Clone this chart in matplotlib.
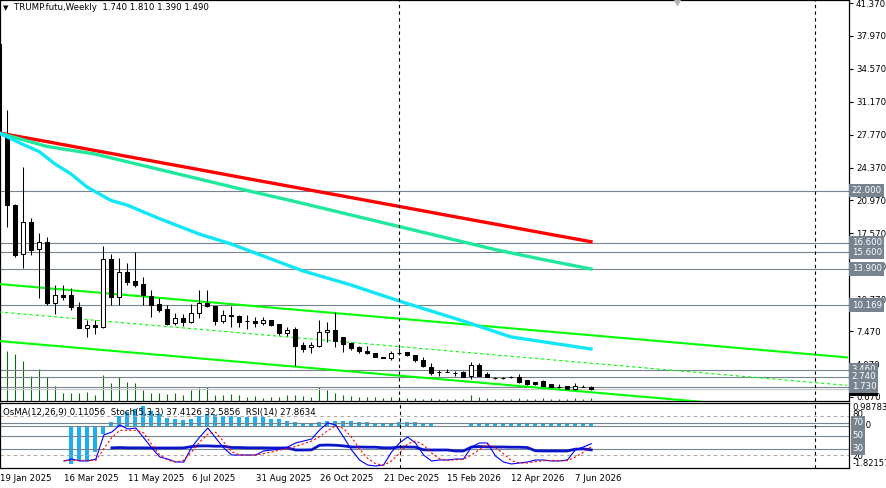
import matplotlib
matplotlib.use("Agg")
import matplotlib.pyplot as plt
import matplotlib.transforms as mtransforms
import numpy as np

# figure size in pixels, plot area ends at PLOT_RIGHT
W, H = 887, 488
PLOT_RIGHT = 849

# weekly bars, index 0 = 19 Jan 2025
opens = [37.13, 27.94, 20.50, 15.44, 18.75, 15.96, 16.68, 10.38, 11.20, 11.20,
         9.97, 7.80, 8.11, 7.90, 14.92, 10.99, 13.58, 12.65, 12.34, 11.10,
         10.27, 9.76, 8.31, 8.83, 8.42, 9.35, 10.38, 10.07, 8.52, 9.14,
         9.04, 8.52, 8.52, 8.31, 8.63, 8.21, 7.28, 7.69, 6.04, 5.84,
         5.95, 7.38, 7.59, 6.88, 6.25, 5.84, 5.42, 5.21, 4.80, 4.70,
         5.21, 5.32, 5.01, 4.49, 3.77, 3.25, 3.25, 3.15, 3.25, 2.83,
         3.97, 3.04, 2.63, 2.63, 2.73, 2.73, 2.42, 2.22, 2.32, 2.01,
         1.70, 1.81, 1.50, 1.70, 1.74]
highs = [45.00, 30.32, 20.60, 24.43, 19.16, 17.61, 17.20, 12.24, 12.24, 11.93,
         10.48, 8.62, 8.62, 16.27, 15.44, 15.03, 14.51, 15.65, 13.06, 11.72,
         10.89, 10.17, 9.35, 9.24, 10.27, 11.72, 11.72, 10.10, 9.66, 10.07,
         9.10, 9.14, 8.93, 8.93, 8.65, 8.25, 7.90, 7.90, 6.36, 6.36,
         8.60, 8.40, 9.40, 6.90, 6.30, 5.90, 5.95, 5.25, 4.85, 5.42,
         5.73, 5.32, 5.05, 4.80, 4.18, 3.46, 3.56, 3.35, 3.35, 4.28,
         4.18, 3.25, 2.73, 2.70, 2.80, 3.04, 2.45, 2.25, 2.42, 2.05,
         2.01, 1.85, 2.11, 1.91, 1.81]
lows = [27.50, 18.23, 15.13, 14.00, 15.34, 10.89, 10.17, 9.24, 10.70, 9.66,
        7.75, 6.88, 7.18, 7.80, 10.17, 10.17, 12.24, 12.03, 10.17, 8.93,
        9.45, 8.11, 8.11, 8.01, 8.31, 8.83, 10.00, 8.11, 8.31, 7.90,
        7.90, 7.69, 7.90, 8.11, 8.05, 7.08, 6.98, 3.90, 5.32, 5.21,
        5.84, 6.36, 5.80, 5.32, 5.50, 5.21, 5.15, 4.75, 4.65, 4.49,
        5.01, 4.90, 4.28, 3.77, 2.94, 2.83, 3.20, 2.83, 2.70, 2.53,
        2.80, 2.70, 2.53, 2.55, 2.60, 2.11, 1.95, 1.95, 1.78, 1.65,
        1.60, 1.45, 1.40, 1.65, 1.39]
closes = [27.94, 20.50, 15.34, 18.75, 15.85, 16.68, 10.38, 11.20, 10.99, 9.97,
          7.80, 8.11, 7.90, 14.92, 10.99, 13.58, 12.55, 12.24, 11.20, 10.17,
          9.66, 8.21, 8.83, 8.42, 9.35, 10.38, 10.07, 8.52, 9.14, 9.04,
          8.42, 8.52, 8.31, 8.63, 8.11, 7.28, 7.59, 5.95, 5.63, 6.04,
          7.38, 7.59, 6.50, 6.15, 5.73, 5.42, 5.21, 4.80, 4.70, 5.21,
          5.21, 5.01, 4.49, 3.87, 3.15, 3.25, 3.25, 3.15, 2.73, 3.97,
          2.83, 2.73, 2.63, 2.63, 2.73, 2.22, 2.01, 2.01, 1.81, 1.70,
          1.70, 1.50, 1.81, 1.70, 1.49]
volumes = [60, 50, 47, 40, 25, 32, 24, 15, 8, 8,
           8, 9, 6, 26, 18, 24, 19, 18, 11, 8,
           8, 7, 8, 6, 11, 13, 14, 6, 6, 7,
           6, 4, 5, 3, 4, 4, 6, 6, 5, 4,
           14, 11, 8, 6, 5, 4, 4, 4, 3, 4,
           4, 3, 3, 2, 3, 2, 2, 2, 2, 6,
           4, 3, 2, 2, 2, 3, 2, 2, 3, 2,
           2, 2, 3, 2, 3]

# moving averages, sampled at bar indices
ma_slow_idx = [0, 6, 12, 19, 25, 31, 37, 44, 50, 56, 62, 68, 74]
ma_red = [27.94, 27.05, 26.13, 25.07, 24.16, 23.24, 22.33, 21.27, 20.36, 19.44,
          18.53, 17.61, 16.71]
ma_spring = [27.94, 26.55, 25.77, 24.38, 23.19, 22.00, 20.86, 19.47, 18.28,
             17.09, 15.90, 14.87, 13.89]
ma_cyan_idx = [0, 3, 5, 7, 9, 11, 14, 16, 20, 25, 29, 34, 38, 44, 50, 58, 64, 74]
ma_cyan = [27.94, 26.76, 26.03, 24.74, 23.71, 22.36, 20.97, 20.50, 19.11, 17.51,
           16.48, 14.93, 13.69, 12.24, 10.59, 8.52, 6.87, 5.63]

# trend channel
chan_idx = [0, 106]
chan_upper = [12.34, 4.76]
chan_mid = [9.45, 1.87]
chan_lower = [6.45, -1.13]

levels = [22.0, 16.6, 15.6, 13.9, 10.169, 3.46, 2.74, 1.73]
tick_vals = [41.37, 37.97, 34.57, 31.17, 27.77, 24.37, 20.97, 17.57, 14.17,
             10.77, 7.47, 4.07, 0.67]
separators = [50, 102]
shift_mark = 84.75

date_idx = [0, 8, 16, 24, 32, 40, 48, 56, 64, 72]
date_labels = ['19 Jan 2025', '16 Mar 2025', '11 May 2025', '6 Jul 2025',
               '31 Aug 2025', '26 Oct 2025', '21 Dec 2025', '15 Feb 2026',
               '12 Apr 2026', '7 Jun 2026']

nan = np.nan
osma = [nan] * 9 + [
    -1.66, -1.53, -1.53, -1.15, -0.37, 0.15, 0.41, 0.58, 0.71, 0.84,
    0.63, 0.50, 0.32, 0.28, 0.24, 0.28, 0.41, 0.50, 0.45, 0.41,
    0.41, 0.37, 0.37, 0.37, 0.37, 0.28, 0.28, 0.19, 0.15, 0.06,
    0.06, 0.15, 0.19, 0.19, 0.19, 0.19, 0.15, 0.15, 0.11, 0.06,
    0.06, 0.15, 0.15, 0.15, 0.11, 0.06, 0.0, 0.0, 0.0, 0.0,
    0.08, 0.13, 0.13, 0.12, 0.12, 0.12, 0.11, 0.12, 0.12, 0.11,
    0.12, 0.11, 0.10, 0.11, 0.11, 0.11056]
stoch_k = [nan] * 8 + [
    10.8, 13.8, 10.8, 10.8, 13.8, 50.8, 55.4, 66.2, 60.0, 61.5,
    46.2, 30.8, 16.9, 13.8, 9.2, 9.2, 32.3, 47.7, 61.5, 46.2,
    30.8, 20.0, 20.0, 20.0, 20.0, 26.2, 27.7, 29.2, 32.3, 38.5,
    41.5, 44.6, 58.5, 69.2, 66.2, 47.7, 27.7, 12.3, 4.6, 3.1,
    4.6, 24.6, 38.5, 47.7, 38.5, 20.0, 10.8, 12.3, 12.3, 13.8,
    13.8, 32.3, 38.5, 38.5, 18.5, 9.2, 6.2, 7.7, 9.2, 12.3,
    12.3, 10.8, 10.8, 12.3, 27.7, 32.3, 37.4126]
stoch_d = [nan] * 8 + [
    11.0, 12.0, 11.8, 11.8, 11.8, 30.0, 47.0, 58.0, 58.0, 58.0,
    54.0, 36.0, 20.0, 12.0, 9.0, 12.0, 25.0, 40.0, 52.0, 55.0,
    40.0, 25.0, 20.0, 20.0, 20.0, 22.1, 24.6, 27.7, 29.7, 33.3,
    37.4, 41.5, 48.2, 57.4, 64.6, 61.0, 47.2, 29.2, 14.9, 6.7,
    4.1, 10.8, 22.6, 36.9, 41.6, 35.4, 23.1, 14.4, 11.8, 12.8,
    13.3, 20.0, 28.2, 36.4, 31.8, 22.1, 11.3, 7.7, 7.7, 9.7,
    11.3, 11.8, 11.3, 11.3, 16.9, 24.1, 32.5856]
rsi = [nan] * 14 + [
    31.0, 31.5, 31.0, 31.0, 31.0, 30.8, 30.8, 30.8, 30.8, 31.0,
    33.0, 34.0, 34.0, 33.5, 33.5, 31.5, 31.5, 31.0, 31.0, 31.0,
    30.8, 30.8, 30.8, 27.7, 27.7, 28.0, 35.0, 35.4, 35.0, 34.0,
    32.3, 32.3, 32.0, 32.0, 31.0, 31.0, 32.3, 32.3, 32.0, 28.0,
    27.7, 27.7, 27.7, 26.2, 26.2, 32.3, 33.0, 32.5, 32.3, 32.3,
    32.0, 32.0, 31.5, 26.5, 26.2, 26.2, 26.2, 26.2, 29.0, 29.5,
    27.8634]

GREY = '#77838F'
XLIM = (0.125, 106.25)


def rect(top, bottom):
    return [0, 1 - bottom / H, PLOT_RIGHT / W, (bottom - top) / H]


def main() -> None:
    plt.rcParams['font.family'] = ['DejaVu Sans']
    plt.rcParams['font.size'] = 6.2
    fig = plt.figure(figsize=(W / 100, H / 100), dpi=100)
    fig.patch.set_facecolor('white')

    # --- main price panel ---
    ax_vol = fig.add_axes(rect(0, 401))
    ax = fig.add_axes(rect(0, 401))
    ax_vol.set_zorder(0)
    ax.set_zorder(1)
    ax.patch.set_visible(False)

    ax_vol.vlines(np.arange(len(volumes)), 0, volumes, color='#0A6E0A', lw=0.8)
    ax_vol.set_xlim(*XLIM)
    ax_vol.set_ylim(0, 401)
    ax_vol.axis('off')

    o = np.array(opens)
    c = np.array(closes)
    idx = np.arange(len(c))

    for lv in levels:
        ax.axhline(lv, color=GREY, lw=0.8, zorder=2)
    ax.axhline(c[-1], color='#C8C8C8', lw=0.8, zorder=2)

    ax.plot(chan_idx, chan_upper, color='#00FF00', lw=1.5, zorder=3)
    ax.plot(chan_idx, chan_lower, color='#00FF00', lw=1.5, zorder=3)
    ax.plot(chan_idx, chan_mid, color='#00FF00', lw=0.8, ls=(0, (3, 2.5)), zorder=3)

    ax.vlines(idx, lows, highs, color='black', lw=0.75, zorder=4)
    up = c > o
    ax.bar(idx, np.abs(c - o), bottom=np.minimum(o, c), width=0.62,
           color=np.where(up, 'white', 'black'), edgecolor='black',
           linewidth=0.75, zorder=5)

    ax.plot(ma_slow_idx, ma_red, color='#FF0000', lw=2.4, zorder=6)
    ax.plot(ma_slow_idx, ma_spring, color='#1FE89C', lw=2.4, zorder=6)
    ax.plot(ma_cyan_idx, ma_cyan, color='#10E6F6', lw=2.4, zorder=6)

    for s in separators:
        ax.axvline(s, color='black', lw=0.8, ls=(0, (3, 3)), zorder=7)

    top_tr = mtransforms.blended_transform_factory(ax.transData, ax.transAxes)
    ax.plot([shift_mark], [1.0], marker='v', ms=7, color='#B4B4B4',
            transform=top_tr, clip_on=False, zorder=8)

    ax.set_xlim(*XLIM)
    ax.set_xticks([])
    ax.yaxis.tick_right()
    ax.set_yticks(tick_vals)
    ax.set_yticklabels([f'{v:.3f}' for v in tick_vals])
    ax.tick_params(axis='y', length=3, width=0.8, pad=2, labelsize=6.2)
    ax.set_ylim(0.254, 41.68)
    for sp in ax.spines.values():
        sp.set_linewidth(0.9)

    lab_tr = mtransforms.blended_transform_factory(ax.transAxes, ax.transData)
    ax.text(1.003, c[-1], f'{c[-1]:.3f}', transform=lab_tr, ha='left', va='center',
            color='white', bbox=dict(boxstyle='square,pad=0.25', fc='black', ec='none'),
            zorder=9, clip_on=False)
    for lv in levels:
        ax.text(1.003, lv, f'{lv:.3f}', transform=lab_tr, ha='left', va='center',
                color='white', bbox=dict(boxstyle='square,pad=0.25', fc=GREY, ec='none'),
                zorder=10, clip_on=False)

    fig.text(3 / W, 1 - 8 / H, '\u25bc', fontsize=5, va='center', color='black')
    fig.text(14 / W, 1 - 8 / H,
             f'TRUMP.futu,Weekly  {opens[-1]:.3f} {highs[-1]:.3f} {lows[-1]:.3f} {closes[-1]:.3f}',
             va='center', color='black')

    # --- indicator panel ---
    ax_os = fig.add_axes(rect(403, 468))
    ax_in = fig.add_axes(rect(403, 468))
    ax_os.set_zorder(0)
    ax_in.set_zorder(1)
    ax_in.patch.set_visible(False)

    ax_os.bar(np.arange(len(osma)), osma, width=0.45, color='#1CB0F0')
    ax_os.axhline(0, color=GREY, lw=0.8)
    ax_os.set_xlim(*XLIM)
    ax_os.set_ylim(-1.82157, 0.98783)
    ax_os.axis('off')

    for lv in (80, 20):
        ax_in.axhline(lv, color='#A8A8A8', lw=0.8, ls=(0, (3, 3)))
    for lv in (70, 50, 30):
        ax_in.axhline(lv, color=GREY, lw=0.8)
    ax_in.plot(np.arange(len(rsi)), rsi, color='#0A14C8', lw=2.0)
    ax_in.plot(np.arange(len(stoch_k)), stoch_k, color='#0000FF', lw=0.8)
    ax_in.plot(np.arange(len(stoch_d)), stoch_d, color='#FF0000', lw=0.8, ls=(0, (2, 2)))
    for s in separators:
        ax_in.axvline(s, color='black', lw=0.8, ls=(0, (3, 3)))

    ax_in.set_xlim(*XLIM)
    ax_in.set_ylim(0, 100)
    ax_in.set_yticks([])
    ax_in.set_xticks(date_idx)
    ax_in.set_xticklabels(date_labels, ha='left')
    ax_in.tick_params(axis='x', length=0, pad=4, labelsize=6.2)
    for sp in ax_in.spines.values():
        sp.set_linewidth(0.9)

    os_tr = mtransforms.blended_transform_factory(ax_os.transAxes, ax_os.transData)
    in_tr = mtransforms.blended_transform_factory(ax_in.transAxes, ax_in.transData)
    ax_in.text(1.004, 0.98783, '0.98783', transform=os_tr, ha='left', va='top', clip_on=False)
    ax_in.text(1.004, -1.82157, '-1.82157', transform=os_tr, ha='left', va='bottom',
               fontsize=6.0, clip_on=False)
    ax_in.text(1.004, 0.0, '0.00', transform=os_tr, ha='left', va='center', clip_on=False)
    ax_in.text(1.004, 82, '80', transform=in_tr, ha='left', va='center', clip_on=False)
    ax_in.text(1.004, 18, '20', transform=in_tr, ha='left', va='center', clip_on=False)
    for lv in (70, 50, 30):
        ax_in.text(1.004, lv, str(lv), transform=in_tr, ha='left', va='center',
                   color='white', bbox=dict(boxstyle='square,pad=0.2', fc=GREY, ec='none'),
                   zorder=10, clip_on=False)

    fig.text(3 / W, 1 - 412 / H,
             f'OsMA(12,26,9) {osma[-1]:.5f}  Stoch(5,3,3) {stoch_k[-1]:.4f} {stoch_d[-1]:.4f}'
             f'  RSI(14) {rsi[-1]:.4f}',
             va='center', color='black')

    fig.savefig('out.png', dpi=100, facecolor='white')


if __name__ == "__main__":
    main()
